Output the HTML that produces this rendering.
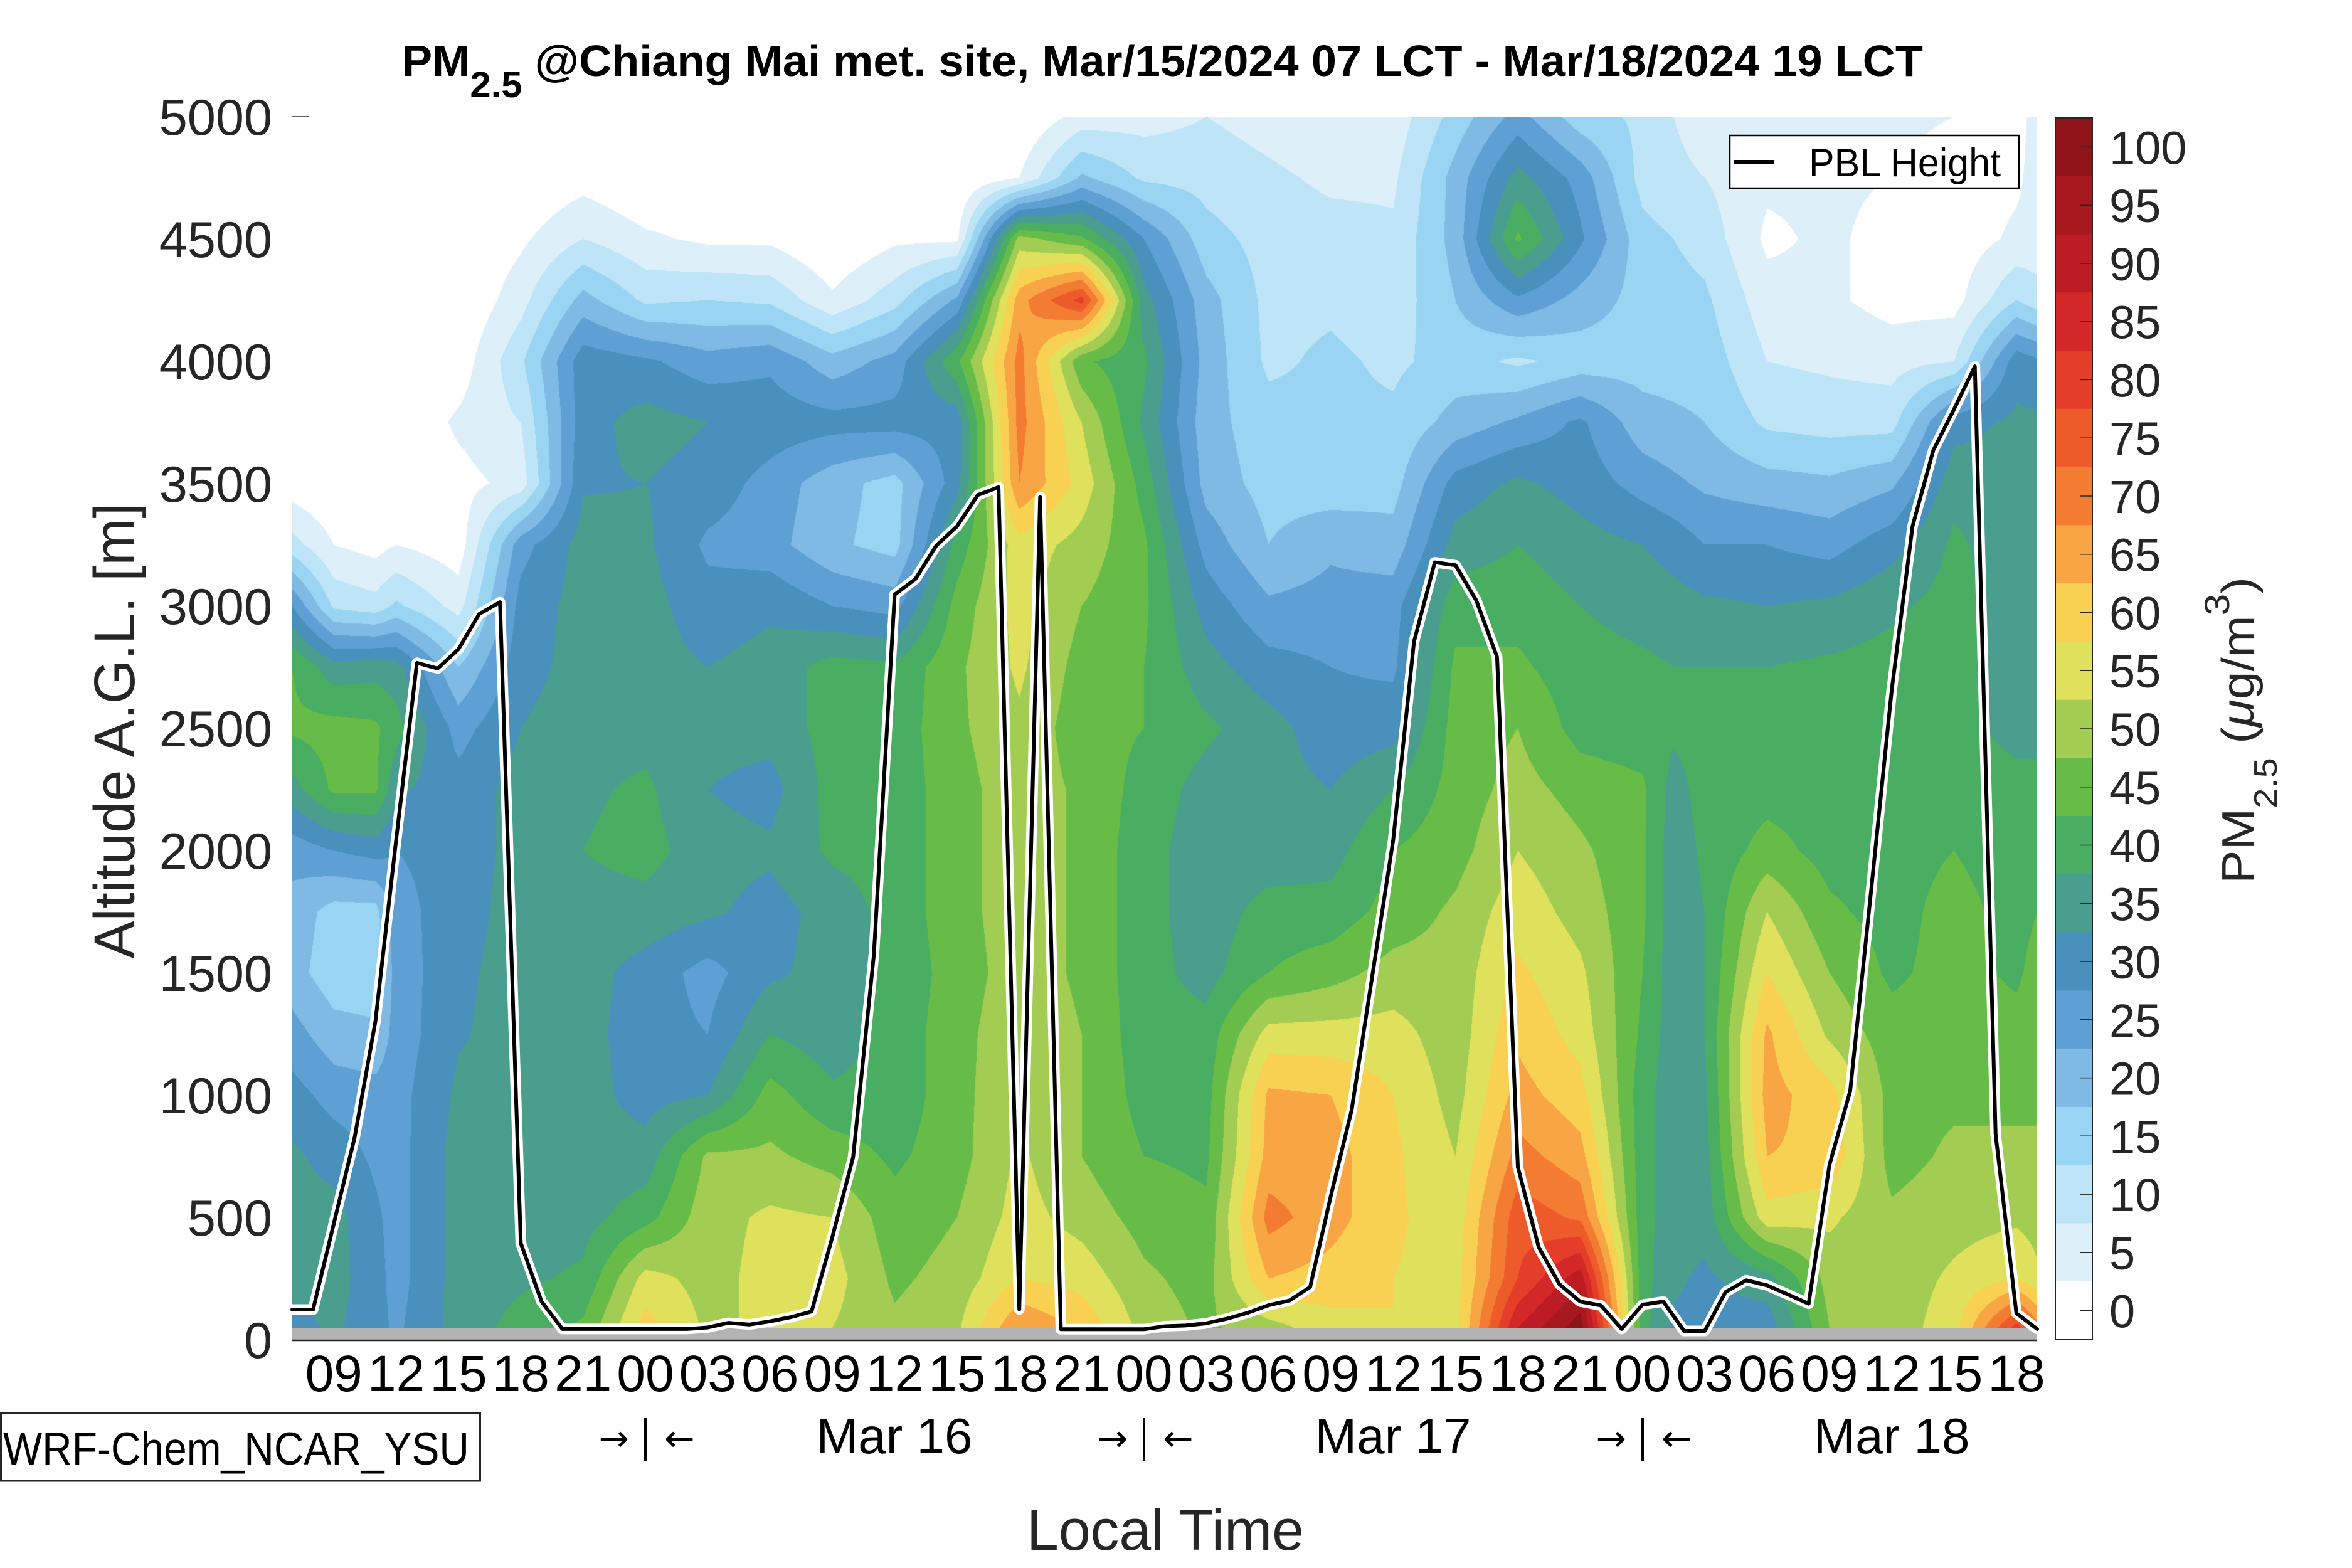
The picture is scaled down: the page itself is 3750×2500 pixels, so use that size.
<!DOCTYPE html>
<html><head><meta charset="utf-8">
<style>
html,body{margin:0;padding:0;background:#fff;}
#wrap{position:relative;width:3750px;height:2500px;overflow:hidden;background:#fff;}
#c{position:absolute;left:466px;top:186px;width:2782px;height:1950px;}
svg{position:absolute;left:0;top:0;}
</style></head><body>
<div id="wrap">
<canvas id="c" width="2782" height="1950"></canvas>
<svg width="3750" height="2500" viewBox="0 0 3750 2500" font-family="'Liberation Sans', sans-serif">
<!-- ground strip -->
<rect x="466" y="2117" width="2782" height="20" fill="#b3b3b3"/>
<line x1="466" y1="2137" x2="3248" y2="2137" stroke="#262626" stroke-width="2.5"/>
<line x1="466" y1="186" x2="493" y2="186" stroke="#262626" stroke-width="1.5"/>
<!-- PBL line -->
<g transform="translate(466,2136) scale(33.119,-0.39)">
<polyline fill="none" stroke="#ffffff" stroke-width="17" stroke-linejoin="round" stroke-linecap="round" vector-effect="non-scaling-stroke" points="0,123 1,123 2,475 3,826 4,1300 5,2043 6,2767 7,2744 8,2823 9,2967 10,3015 11,395 12,156 13,44 14,44 15,44 16,44 17,44 18,44 19,44 20,50 21,69 22,62 23,75 24,92 25,115 26,420 27,746 28,1575 29,3046 30,3110 31,3246 32,3325 33,3453 34,3485 35,124 36,3445 37,43 38,43 39,43 40,43 41,43 42,55 43,58 44,67 45,86 46,110 47,141 48,160 49,215 50,589 51,939 52,1491 53,2043 54,2853 55,3178 56,3166 57,3022 58,2791 59,706 60,379 61,227 62,156 63,140 64,44 65,143 66,156 67,36 68,36 69,195 70,243 71,222 72,185 73,147 74,714 75,1017 76,1830 77,2656 78,3325 79,3636 80,3804 81,3979 82,841 83,108 84,44"/>
<polyline fill="none" stroke="#000000" stroke-width="6" stroke-linejoin="round" stroke-linecap="round" vector-effect="non-scaling-stroke" points="0,123 1,123 2,475 3,826 4,1300 5,2043 6,2767 7,2744 8,2823 9,2967 10,3015 11,395 12,156 13,44 14,44 15,44 16,44 17,44 18,44 19,44 20,50 21,69 22,62 23,75 24,92 25,115 26,420 27,746 28,1575 29,3046 30,3110 31,3246 32,3325 33,3453 34,3485 35,124 36,3445 37,43 38,43 39,43 40,43 41,43 42,55 43,58 44,67 45,86 46,110 47,141 48,160 49,215 50,589 51,939 52,1491 53,2043 54,2853 55,3178 56,3166 57,3022 58,2791 59,706 60,379 61,227 62,156 63,140 64,44 65,143 66,156 67,36 68,36 69,195 70,243 71,222 72,185 73,147 74,714 75,1017 76,1830 77,2656 78,3325 79,3636 80,3804 81,3979 82,841 83,108 84,44"/>
</g>
<!-- legend -->
<rect x="2758" y="216" width="461" height="84" fill="#ffffff" stroke="#000" stroke-width="2.5"/>
<line x1="2765" y1="258" x2="2828" y2="258" stroke="#000" stroke-width="6"/>
<text x="2884" y="281" font-size="63" fill="#000" textLength="306" lengthAdjust="spacingAndGlyphs">PBL Height</text>
<!-- title -->
<text x="641" y="121" font-size="70" font-weight="bold" fill="#000" textLength="2425" lengthAdjust="spacingAndGlyphs">PM<tspan font-size="58" dy="34">2.5</tspan><tspan dy="-34"> @Chiang Mai met. site, Mar/15/2024 07 LCT - Mar/18/2024 19 LCT</tspan></text>
<!-- y ticks -->
<g font-size="81" fill="#262626" text-anchor="end">
<text x="434" y="215">5000</text>
<text x="434" y="410">4500</text>
<text x="434" y="605">4000</text>
<text x="434" y="800">3500</text>
<text x="434" y="995">3000</text>
<text x="434" y="1190">2500</text>
<text x="434" y="1385">2000</text>
<text x="434" y="1580">1500</text>
<text x="434" y="1775">1000</text>
<text x="434" y="1970">500</text>
<text x="434" y="2165">0</text>
</g>
<text transform="translate(214,1165) rotate(-90)" text-anchor="middle" font-size="92" fill="#262626" textLength="727" lengthAdjust="spacingAndGlyphs">Altitude A.G.L. [m]</text>
<!-- x ticks -->
<g font-size="82" fill="#000" text-anchor="middle">
<text x="532.2" y="2218">09</text><text x="631.6" y="2218">12</text><text x="731.0" y="2218">15</text><text x="830.3" y="2218">18</text>
<text x="929.7" y="2218">21</text><text x="1029.0" y="2218">00</text><text x="1128.4" y="2218">03</text><text x="1227.8" y="2218">06</text>
<text x="1327.1" y="2218">09</text><text x="1426.5" y="2218">12</text><text x="1525.8" y="2218">15</text><text x="1625.2" y="2218">18</text>
<text x="1724.6" y="2218">21</text><text x="1823.9" y="2218">00</text><text x="1923.3" y="2218">03</text><text x="2022.6" y="2218">06</text>
<text x="2122.0" y="2218">09</text><text x="2221.4" y="2218">12</text><text x="2320.7" y="2218">15</text><text x="2420.1" y="2218">18</text>
<text x="2519.4" y="2218">21</text><text x="2618.8" y="2218">00</text><text x="2718.2" y="2218">03</text><text x="2817.5" y="2218">06</text>
<text x="2916.9" y="2218">09</text><text x="3016.2" y="2218">12</text><text x="3115.6" y="2218">15</text><text x="3215.0" y="2218">18</text>
</g>
<g font-size="80" fill="#000" text-anchor="middle">
<text x="1426" y="2317">Mar 16</text>
<text x="2221" y="2317">Mar 17</text>
<text x="3016" y="2317">Mar 18</text>
</g>
<g fill="#000" font-family="'DejaVu Sans', sans-serif" font-size="58">
<text x="1003" y="2313" text-anchor="end">→</text><line x1="1029" y1="2261" x2="1029" y2="2330" stroke="#000" stroke-width="4"/><text x="1059" y="2313">←</text>
<text x="1798" y="2313" text-anchor="end">→</text><line x1="1824" y1="2261" x2="1824" y2="2330" stroke="#000" stroke-width="4"/><text x="1854" y="2313">←</text>
<text x="2593" y="2313" text-anchor="end">→</text><line x1="2619" y1="2261" x2="2619" y2="2330" stroke="#000" stroke-width="4"/><text x="2649" y="2313">←</text>
</g>
<text x="1858" y="2471" text-anchor="middle" font-size="92" fill="#262626" textLength="442" lengthAdjust="spacingAndGlyphs">Local Time</text>
<!-- model box -->
<rect x="1.5" y="2253" width="764" height="108" fill="#fff" stroke="#262626" stroke-width="3"/>
<text x="5" y="2335" font-size="73" fill="#000" textLength="743" lengthAdjust="spacingAndGlyphs">WRF-Chem_NCAR_YSU</text>
<!-- colorbar -->
<g>
<rect x="3277" y="188.0" width="59" height="93.3" fill="#8e1419"/>
<rect x="3277" y="280.8" width="59" height="93.3" fill="#a8181f"/>
<rect x="3277" y="373.5" width="59" height="93.3" fill="#bc1c24"/>
<rect x="3277" y="466.3" width="59" height="93.3" fill="#d42828"/>
<rect x="3277" y="559.0" width="59" height="93.3" fill="#e43e2a"/>
<rect x="3277" y="651.8" width="59" height="93.3" fill="#ed5b2a"/>
<rect x="3277" y="744.6" width="59" height="93.3" fill="#f47c32"/>
<rect x="3277" y="837.3" width="59" height="93.3" fill="#f7a643"/>
<rect x="3277" y="930.1" width="59" height="93.3" fill="#f8d153"/>
<rect x="3277" y="1022.8" width="59" height="93.3" fill="#dfe05b"/>
<rect x="3277" y="1115.6" width="59" height="93.3" fill="#a2cd52"/>
<rect x="3277" y="1208.4" width="59" height="93.3" fill="#67bc48"/>
<rect x="3277" y="1301.1" width="59" height="93.3" fill="#4aae62"/>
<rect x="3277" y="1393.9" width="59" height="93.3" fill="#4a9e8d"/>
<rect x="3277" y="1486.6" width="59" height="93.3" fill="#4a90bc"/>
<rect x="3277" y="1579.4" width="59" height="93.3" fill="#5fa0d4"/>
<rect x="3277" y="1672.2" width="59" height="93.3" fill="#7ebae4"/>
<rect x="3277" y="1764.9" width="59" height="93.3" fill="#99d5f2"/>
<rect x="3277" y="1857.7" width="59" height="93.3" fill="#bde4f7"/>
<rect x="3277" y="1950.4" width="59" height="93.3" fill="#ddf0fa"/>
<rect x="3277" y="2043.2" width="59" height="92.8" fill="#ffffff"/>
<rect x="3277" y="188" width="59" height="1948" fill="none" stroke="#262626" stroke-width="2"/>
<g stroke="#262626" stroke-width="1.5">
<line x1="3316" y1="234.4" x2="3336" y2="234.4"/><line x1="3316" y1="327.2" x2="3336" y2="327.2"/><line x1="3316" y1="419.9" x2="3336" y2="419.9"/>
<line x1="3316" y1="512.7" x2="3336" y2="512.7"/><line x1="3316" y1="605.4" x2="3336" y2="605.4"/><line x1="3316" y1="698.2" x2="3336" y2="698.2"/>
<line x1="3316" y1="791.0" x2="3336" y2="791.0"/><line x1="3316" y1="883.7" x2="3336" y2="883.7"/><line x1="3316" y1="976.5" x2="3336" y2="976.5"/>
<line x1="3316" y1="1069.2" x2="3336" y2="1069.2"/><line x1="3316" y1="1162.0" x2="3336" y2="1162.0"/><line x1="3316" y1="1254.8" x2="3336" y2="1254.8"/>
<line x1="3316" y1="1347.5" x2="3336" y2="1347.5"/><line x1="3316" y1="1440.3" x2="3336" y2="1440.3"/><line x1="3316" y1="1533.0" x2="3336" y2="1533.0"/>
<line x1="3316" y1="1625.8" x2="3336" y2="1625.8"/><line x1="3316" y1="1718.6" x2="3336" y2="1718.6"/><line x1="3316" y1="1811.3" x2="3336" y2="1811.3"/>
<line x1="3316" y1="1904.1" x2="3336" y2="1904.1"/><line x1="3316" y1="1996.8" x2="3336" y2="1996.8"/><line x1="3316" y1="2089.6" x2="3336" y2="2089.6"/>
</g>
<g font-size="74" fill="#262626">
<text x="3363" y="261.4">100</text><text x="3363" y="354.2">95</text><text x="3363" y="446.9">90</text>
<text x="3363" y="539.7">85</text><text x="3363" y="632.4">80</text><text x="3363" y="725.2">75</text>
<text x="3363" y="818.0">70</text><text x="3363" y="910.7">65</text><text x="3363" y="1003.5">60</text>
<text x="3363" y="1096.2">55</text><text x="3363" y="1189.0">50</text><text x="3363" y="1281.8">45</text>
<text x="3363" y="1374.5">40</text><text x="3363" y="1467.3">35</text><text x="3363" y="1560.0">30</text>
<text x="3363" y="1652.8">25</text><text x="3363" y="1745.6">20</text><text x="3363" y="1838.3">15</text>
<text x="3363" y="1931.1">10</text><text x="3363" y="2023.8">5</text><text x="3363" y="2116.6">0</text>
</g>
<text transform="translate(3593,1409) rotate(-90)" font-size="72" fill="#262626" textLength="489" lengthAdjust="spacingAndGlyphs">PM<tspan font-size="52" dy="37">2.5</tspan><tspan dy="-37"> (</tspan><tspan font-style="italic">μ</tspan><tspan>g/m</tspan><tspan font-size="56" dy="-39">3</tspan><tspan dy="39">)</tspan></text>
</g>
</svg>
</div>
<script>
(function(){
var H=[0,2,4,5,8,11,14,17,20,23,26,29,32,35,38,41,44,47,50,53,56,59,62,65,66.5,68,71,74,77,80,83,84];
var Z=[5000,4750,4500,4250,4000,3750,3500,3250,3000,2750,2500,2250,2000,1750,1500,1250,1000,750,500,250,50];
var V=[
[0,0,0,0,0,0,2,12,30,45,46,38,27,23,22,27,32,36,37,37,33],
[0,0,0,0,0,0,0,5,14,37,47,46,30,18,17,22,28,33,37,37,36],
[0,0,0,0,0,0,0,3,12,38,46,46,32,18,17,21,27,29,31,32,32],
[0,0,0,0,0,0,0,5,16,37,42,36,30,28,27,27,28,28,28,28,29],
[0,0,0,0,2,6,3,2,8,20,28,32,32,33,34,34.5,36,37,37,37,37],
[0,0,4,8,14,10,7,28,32,33,35,37,37,37,37,37,37,37,37,39,42],
[0,3,10,22,33,33,34.5,37,37,37,38,39,40,38,37,37,37,37,38,41,46],
[0,0,6,14,31,37,35,36,37,37,38,41,42,38,33,32,33,37,43,57,62],
[0,0,4,15,27,35,33,29,32,35,37,35,37,36,28,30,35,51,53,53,54],
[0,0,4,14,29,33,28,27,34,37,37,33,36,33,34,40,47,51,56,57,56],
[0,0,0,6,22,32,22,21,30,42,42,42,41,37,37,37,41,48,55,57,55],
[0,0,4,13,27,32,18,18,28,41,42,42,42,42,42,42,42,44,47,49,51],
[0,0,4,26,44,32,33,42,47,49,49,48,48,48,47,48,48,48,50,52,54],
[0,5,52,68,72,72,70,58,57,56,54,53,53,53,53,54,55,56,57,60,70],
[7,21,46,82,46,55,58,53,50,48,47,49,49,49,49,50,50,50,53,58,64],
[8,14,30,37,41,39,43,46,46,45,45,43,42,42,42,42,43,45,48,51,53],
[10,13,17,22,23,22,23,28,33,37,41,38,37,37,38,42,43,44,46,48,49],
[8,11,13,13.5,14,17,18,20,26,32,37,37,37,42,45,57,66,67,72,65,53],
[6,9,12,14,16,16,17,24,27,30,32,35,38,42,48,57,65,67,67,63,58],
[7,9,11,12,14,16,18,22,28,29,33,40,45,47,52,57,60,61,61,60,60],
[17,22,22,20,17,22,32,37,43,46,47,47,48,51,52,52,53,55,57,58,58],
[27,37,46,29,14,26,36,40,43,46,50,52,55,58,61,64,67,72,78,80,90],
[17,28,31,23,17,31,33,37,40,42,43,48,51,53,56,58,62,67,74,93,103],
[14,13,17,18,18,22,28,35,38,41,42,46,46,46,45,44,42,42,42,42,42],
[10,11,15,17,18,21,26,33,37,40,41,38,37,37,37,37,37,37,37,36,34],
[8,10,13,16,18,20,24,30,36,40,42,42,41,40,40,40,39,38,37,34,33],
[7,6,4,7,10,14,22,30,35,40,42,43,47,55,60,66,67,65,58,38,32],
[7,6,6,6,9,13,21,28,36,41,42,43,43,46,50,54,62,64,56,52,50],
[6,5,3,3,8,13,24,33,39,42,43,44,43,43,44,47,48,48,51,52,52],
[5,3,2,3,10,33,38,41,42,42,42,43,45,47,47,48,49,51,53,56,58],
[3,4,6,15,33,36,37,37,37,37,38,42,42,43,44,47,48,52,54,60,82],
[7,7,7,12,31,36,37,37,37,37,39,41,42,45,47,48,49,51,53,56,72]
];
var C=["#ffffff","#ddf0fa","#bde4f7","#99d5f2","#7ebae4","#5fa0d4","#4a90bc","#4a9e8d","#4aae62","#67bc48","#a2cd52","#dfe05b","#f8d153","#f7a643","#f47c32","#ed5b2a","#e43e2a","#d42828","#bc1c24","#a8181f","#8e1419"];
var rgb=C.map(function(s){return [parseInt(s.substr(1,2),16),parseInt(s.substr(3,2),16),parseInt(s.substr(5,2),16)];});
var cv=document.getElementById('c');var W=cv.width,HT=cv.height;
var ctx=cv.getContext('2d');var im=ctx.createImageData(W,HT);var d=im.data;
var xi=new Int32Array(W),xt=new Float32Array(W);
for(var x=0;x<W;x++){var h=(x+0.5)*84/W;var i=0;while(i<H.length-2&&h>H[i+1])i++;xi[x]=i;var t=(h-H[i])/(H[i+1]-H[i]);if(t<0)t=0;if(t>1)t=1;xt[x]=t;}
var yj=new Int32Array(HT),yt=new Float32Array(HT);
for(var y=0;y<HT;y++){var z=5000-(y+0.5)*5000/HT;var j=0;while(j<Z.length-2&&z<Z[j+1])j++;var s=(Z[j]-z)/(Z[j]-Z[j+1]);if(s>1)s=1;if(s<0)s=0;yj[y]=j;yt[y]=s;}
var p=0;
for(var y=0;y<HT;y++){var j=yj[y],ty=yt[y];
 for(var x=0;x<W;x++){var i=xi[x],tx=xt[x];var A=V[i],B=V[i+1];
  var v=(1-tx)*((1-ty)*A[j]+ty*A[j+1])+tx*((1-ty)*B[j]+ty*B[j+1]);
  var k=Math.floor(v/5);if(k<0)k=0;if(k>20)k=20;var c=rgb[k];
  d[p]=c[0];d[p+1]=c[1];d[p+2]=c[2];d[p+3]=255;p+=4;}}
ctx.putImageData(im,0,0);
})();
</script>
</body></html>
